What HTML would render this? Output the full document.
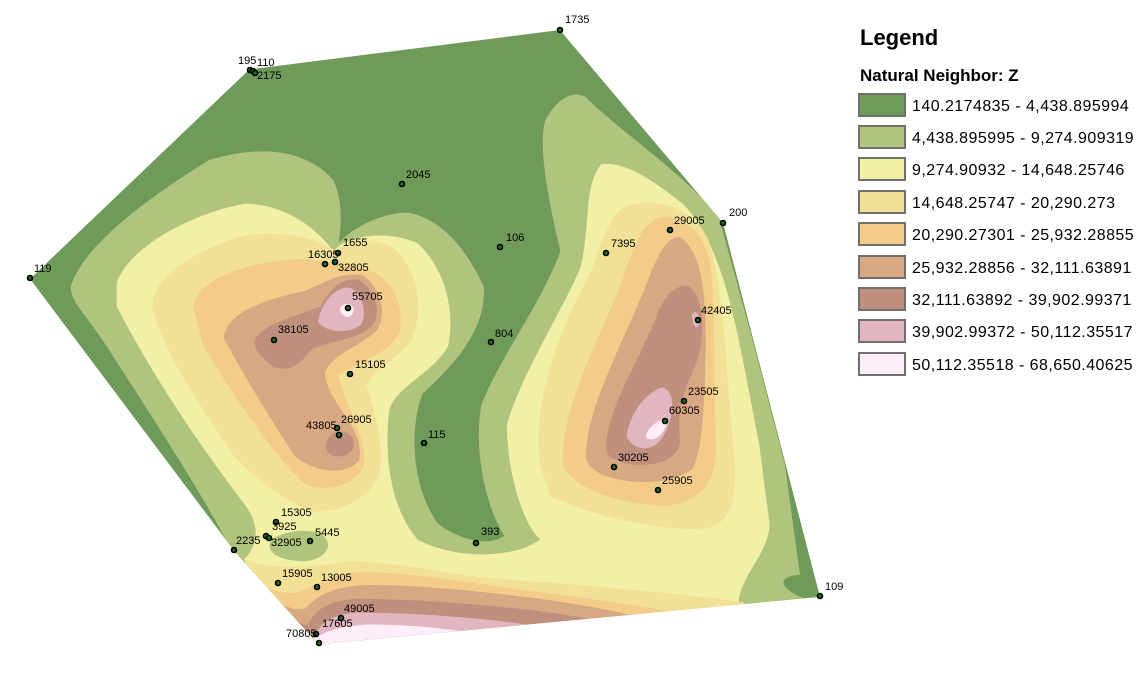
<!DOCTYPE html>
<html><head><meta charset="utf-8"><style>
body{margin:0;background:#fff;width:1146px;height:687px;overflow:hidden;font-family:"Liberation Sans",sans-serif}
</style></head><body>
<svg width="1146" height="687" viewBox="0 0 1146 687" xmlns="http://www.w3.org/2000/svg">
<defs><clipPath id="h"><path d="M430,100 L1039,0 L1359,489 L1549,1435 L565,1555 L400,1318 L0,630 Z"/></clipPath></defs>
<g transform="translate(30,30) scale(0.51,0.395)" clip-path="url(#h)" stroke="none">
<rect x="-50" y="-50" width="1700" height="1700" fill="#6f9a5a"/>
<path fill="#b0c47e" d="M80,650 C100,560 200,450 350,330 C450,290 540,300 595,380 C615,440 610,500 605,540 C640,490 700,462 740,462 C800,475 850,540 890,650 C895,760 830,850 770,920 C745,1000 745,1150 800,1250 C840,1290 900,1310 930,1280 C890,1200 870,1050 885,950 C920,830 1000,700 1040,560 C1020,450 995,300 1010,230 C1030,180 1060,150 1090,170 C1150,250 1260,340 1350,470 L1420,800 L1480,1100 L1510,1380 C1470,1380 1460,1410 1520,1440 L1700,1440 L1700,1700 L500,1700 L400,1330 C350,1200 250,1000 150,800 C110,720 80,690 80,650 Z"/>
<path fill="#f2efa6" d="M170,640 C190,560 300,470 420,440 C500,440 560,500 595,560 C620,520 700,505 760,540 C810,600 835,700 820,800 C790,870 720,900 705,960 C695,1050 700,1200 760,1290 C830,1340 950,1340 1000,1290 C960,1240 935,1100 935,1000 C960,880 1040,720 1080,600 C1100,480 1085,400 1120,340 C1170,330 1230,390 1280,440 C1340,520 1370,650 1400,850 L1430,1050 L1450,1250 C1450,1320 1400,1370 1390,1440 L1390,1700 L500,1700 L420,1340 C450,1300 450,1250 420,1200 C350,1080 250,900 170,700 Z"/>
<path fill="#b0c47e" d="M470,1300 C480,1270 540,1260 570,1275 C600,1300 580,1340 540,1345 C500,1345 465,1330 470,1300 Z"/>
<path fill="#f2e096" d="M240,700 C240,620 330,555 420,520 C500,505 570,530 600,560 C630,520 690,525 720,560 C765,620 770,720 750,780 C720,840 670,860 660,900 C680,980 700,1080 680,1140 C650,1200 600,1220 560,1220 C500,1200 440,1130 400,1080 C340,960 260,820 240,700 Z"/>
<path fill="#f2cc88" d="M320,700 C330,630 420,590 520,580 C580,580 610,600 640,600 C700,610 735,680 725,760 C710,820 640,840 605,875 C615,950 660,1020 655,1100 C640,1160 570,1170 540,1150 C480,1080 400,930 340,800 Z"/>
<path fill="#d7a882" d="M380,780 C385,710 470,680 540,660 C580,640 600,615 650,620 C690,650 700,720 680,760 C650,800 590,820 578,870 C585,950 660,1010 645,1090 C620,1130 560,1120 520,1080 C480,1000 430,900 380,780 Z"/>
<path fill="#c0907e" d="M440,790 C445,750 520,725 570,700 C585,660 610,625 645,632 C680,660 690,720 670,750 C640,785 580,790 550,810 C530,850 500,870 475,850 C455,830 440,810 440,790 Z"/>
<path fill="#c0907e" d="M580,1050 C585,1010 625,1005 635,1040 C640,1070 615,1085 595,1078 C582,1070 579,1060 580,1050 Z"/>
<path fill="#e2b6c0" d="M565,740 C570,690 600,650 625,652 C655,665 660,720 650,745 C630,768 585,770 565,740 Z"/>
<path fill="#fdeefa" d="M608,705 C612,690 630,688 634,705 C636,718 628,728 620,726 C612,722 607,714 608,705 Z"/>
<path fill="#f2e096" d="M1000,1100 C985,950 1030,780 1090,640 C1120,560 1130,470 1170,445 C1230,420 1300,450 1330,530 C1360,650 1365,850 1375,1000 C1385,1120 1395,1240 1330,1260 C1250,1275 1100,1230 1020,1180 Z"/>
<path fill="#f2cc88" d="M1045,1100 C1040,960 1110,800 1160,640 C1185,540 1200,485 1240,472 C1290,475 1325,520 1335,600 C1345,750 1340,900 1345,1060 C1345,1150 1310,1200 1240,1205 C1160,1200 1060,1160 1045,1100 Z"/>
<path fill="#d7a882" d="M1090,1080 C1090,960 1160,800 1210,640 C1230,570 1250,520 1275,525 C1315,560 1325,650 1325,800 C1322,950 1320,1050 1300,1110 C1260,1150 1180,1155 1120,1125 C1100,1110 1090,1095 1090,1080 Z"/>
<path fill="#c0907e" d="M1130,1060 C1130,960 1190,850 1230,720 C1245,670 1265,645 1290,648 C1320,670 1325,760 1310,830 C1290,900 1265,950 1275,1040 C1270,1090 1230,1105 1180,1100 C1150,1095 1130,1080 1130,1060 Z"/>
<path fill="#e2b6c0" d="M1170,1030 C1175,970 1210,915 1240,905 C1268,915 1262,980 1245,1020 C1230,1065 1190,1075 1170,1030 Z"/>
<path fill="#e2b6c0" d="M1298,720 C1305,705 1315,720 1312,745 C1308,762 1298,750 1298,720 Z"/>
<path fill="#fdeefa" d="M1208,1025 C1215,1000 1235,985 1250,985 C1250,1005 1238,1030 1222,1036 C1212,1038 1206,1032 1208,1025 Z"/>
<path fill="#f2e096" d="M420,1340 C460,1360 520,1368 620,1345 C700,1345 780,1365 850,1380 C950,1395 1100,1405 1200,1420 C1300,1430 1380,1445 1400,1450 L1400,1700 L500,1700 Z"/>
<path fill="#f2cc88" d="M435,1370 C450,1410 470,1425 520,1425 C560,1410 570,1385 650,1372 C750,1375 850,1395 950,1415 C1050,1430 1150,1450 1250,1470 L1250,1700 L500,1700 Z"/>
<path fill="#d7a882" d="M455,1415 C480,1450 505,1470 540,1465 C560,1440 580,1410 660,1405 C760,1405 880,1420 1000,1440 C1080,1455 1150,1470 1200,1490 L1200,1700 L500,1700 Z"/>
<path fill="#c0907e" d="M475,1450 C510,1490 530,1505 545,1505 C560,1470 580,1445 640,1440 C760,1440 900,1455 1020,1475 C1080,1485 1110,1495 1130,1505 L1130,1700 L500,1700 Z"/>
<path fill="#e2b6c0" d="M495,1480 C520,1515 540,1535 555,1540 C570,1500 590,1480 640,1475 C760,1475 900,1490 1000,1510 L1060,1525 L1060,1700 L500,1700 Z"/>
<path fill="#fdeefa" d="M545,1550 C575,1525 600,1510 660,1505 C760,1505 850,1520 900,1535 L900,1700 L540,1700 Z"/>
</g>
<g fill="#1f6e1f" stroke="#000" stroke-width="1.6">
<circle cx="560" cy="30" r="2.5"/><circle cx="250" cy="70" r="2.5"/><circle cx="253" cy="71" r="2.5"/><circle cx="255" cy="73" r="2.5"/>
<circle cx="402" cy="184" r="2.5"/><circle cx="723" cy="223" r="2.5"/><circle cx="670" cy="230" r="2.5"/><circle cx="500" cy="247" r="2.5"/>
<circle cx="606" cy="253" r="2.5"/><circle cx="338" cy="253" r="2.5"/><circle cx="325" cy="264" r="2.5"/><circle cx="335" cy="262" r="2.5"/>
<circle cx="30" cy="278" r="2.5"/><circle cx="348" cy="308" r="2.5"/><circle cx="274" cy="340" r="2.5"/><circle cx="491" cy="342" r="2.5"/>
<circle cx="698" cy="320" r="2.5"/><circle cx="350" cy="374" r="2.5"/><circle cx="684" cy="401" r="2.5"/><circle cx="665" cy="421" r="2.5"/>
<circle cx="337" cy="428" r="2.5"/><circle cx="339" cy="435" r="2.5"/><circle cx="424" cy="443" r="2.5"/><circle cx="614" cy="467" r="2.5"/>
<circle cx="658" cy="490" r="2.5"/><circle cx="276" cy="522" r="2.5"/><circle cx="266" cy="536" r="2.5"/><circle cx="269" cy="538" r="2.5"/>
<circle cx="310" cy="541" r="2.5"/><circle cx="476" cy="543" r="2.5"/><circle cx="234" cy="550" r="2.5"/><circle cx="278" cy="583" r="2.5"/>
<circle cx="317" cy="587" r="2.5"/><circle cx="820" cy="596" r="2.5"/><circle cx="341" cy="618" r="2.5"/><circle cx="316" cy="634" r="2.5"/><circle cx="319" cy="643" r="2.5"/>
</g>
<g font-size="11" fill="#000">
<text x="565" y="23">1735</text><text x="238" y="64">195</text><text x="257" y="66">110</text><text x="257" y="79">2175</text>
<text x="406" y="178">2045</text><text x="729" y="216">200</text><text x="674" y="224">29005</text><text x="506" y="241">106</text>
<text x="611" y="247">7395</text><text x="343" y="246">1655</text><text x="308" y="258">16305</text><text x="338" y="271">32805</text>
<text x="34" y="272">119</text><text x="352" y="300">55705</text><text x="278" y="333">38105</text><text x="495" y="337">804</text>
<text x="701" y="314">42405</text><text x="355" y="368">15105</text><text x="688" y="395">23505</text><text x="669" y="414">60305</text>
<text x="341" y="423">26905</text><text x="306" y="429">43805</text><text x="428" y="438">115</text><text x="618" y="461">30205</text>
<text x="662" y="484">25905</text><text x="281" y="516">15305</text><text x="272" y="530">3925</text><text x="271" y="546">32905</text>
<text x="315" y="536">5445</text><text x="481" y="535">393</text><text x="236" y="544">2235</text><text x="282" y="577">15905</text>
<text x="321" y="581">13005</text><text x="825" y="590">109</text><text x="344" y="612">49005</text><text x="322" y="627">17605</text><text x="286" y="637">70805</text>
</g>
<g>
<text x="860" y="45" font-size="22" font-weight="bold">Legend</text>
<text x="860" y="81" font-size="17" font-weight="bold">Natural Neighbor: Z</text>
<g stroke="#707070" stroke-width="2">
<rect x="859" y="94" width="46" height="22" fill="#6f9a5a"/>
<rect x="859" y="126" width="46" height="22" fill="#b0c47e"/>
<rect x="859" y="158" width="46" height="22" fill="#f2efa6"/>
<rect x="859" y="191" width="46" height="22" fill="#f2e096"/>
<rect x="859" y="223" width="46" height="22" fill="#f2cc88"/>
<rect x="859" y="256" width="46" height="22" fill="#d7a882"/>
<rect x="859" y="288" width="46" height="22" fill="#c0907e"/>
<rect x="859" y="320" width="46" height="22" fill="#e2b6c0"/>
<rect x="859" y="353" width="46" height="22" fill="#fdeefa"/>
</g>
<g font-size="16" letter-spacing="0.45">
<text x="912" y="111">140.2174835 - 4,438.895994</text>
<text x="912" y="143">4,438.895995 - 9,274.909319</text>
<text x="912" y="175">9,274.90932 - 14,648.25746</text>
<text x="912" y="208">14,648.25747 - 20,290.273</text>
<text x="912" y="240">20,290.27301 - 25,932.28855</text>
<text x="912" y="273">25,932.28856 - 32,111.63891</text>
<text x="912" y="305">32,111.63892 - 39,902.99371</text>
<text x="912" y="337">39,902.99372 - 50,112.35517</text>
<text x="912" y="370">50,112.35518 - 68,650.40625</text>
</g>
</g>
</svg>
</body></html>
